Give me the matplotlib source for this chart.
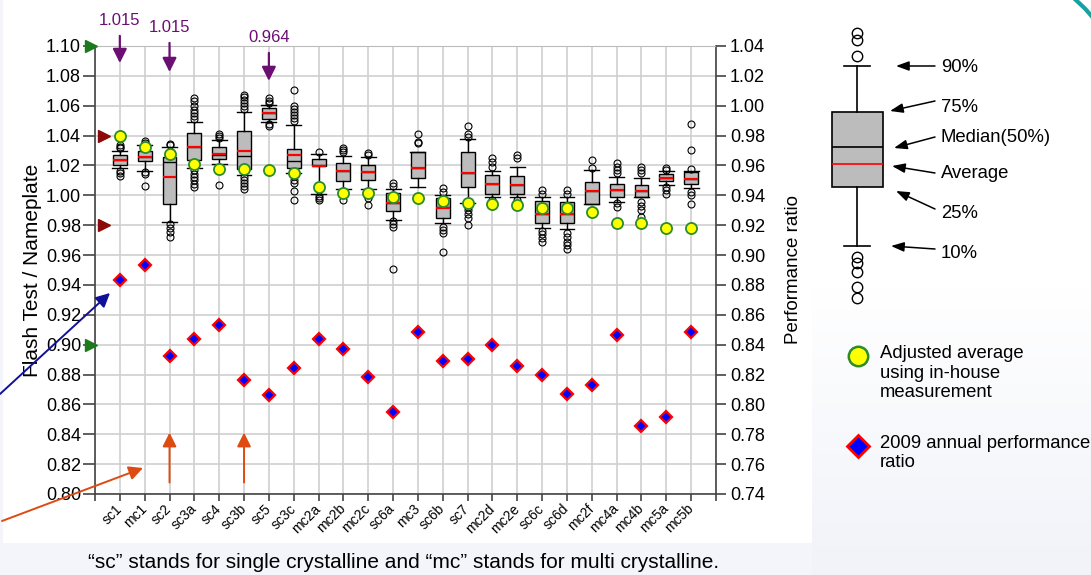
import numpy as np
import matplotlib
matplotlib.use('Agg')
import matplotlib.pyplot as plt
from matplotlib.patches import Rectangle, Arc

plt.rcParams['font.family'] = ['Liberation Sans', 'DejaVu Sans']
plt.rcParams['axes.unicode_minus'] = False

# module names along the x axis
names = ['sc1', 'mc1', 'sc2', 'sc3a', 'sc4', 'sc3b', 'sc5', 'sc3c', 'mc2a', 'mc2b',
         'mc2c', 'sc6a', 'mc3', 'sc6b', 'sc7', 'mc2d', 'mc2e', 'sc6c', 'sc6d', 'mc2f',
         'mc4a', 'mc4b', 'mc5a', 'mc5b']

# flash test / nameplate distribution (10%, 25%, median, 75%, 90%, average)
p10 = [1.0183, 1.0165, 0.9820, 1.0183, 1.0209, 1.0138, 1.0490, 1.0150, 1.0009, 1.0042,
       1.0045, 0.9836, 1.0058, 0.9817, 0.9951, 0.9987, 0.9987, 0.9779, 0.9772, 0.9942,
       0.9958, 0.9987, 1.0069, 1.0047]
p25 = [1.0203, 1.0229, 0.9944, 1.0238, 1.0245, 1.0176, 1.0512, 1.0183, 1.0194, 1.0094,
       1.0105, 0.9892, 1.0114, 0.9846, 1.0054, 1.0007, 1.0007, 0.9812, 0.9812, 0.9942,
       0.9987, 0.9991, 1.0098, 1.0076]
p50 = [1.0235, 1.0260, 1.0223, 1.0327, 1.0270, 1.0265, 1.0548, 1.0232, 1.0205, 1.0160,
       1.0154, 0.9952, 1.0181, 0.9925, 1.0152, 1.0076, 1.0072, 0.9873, 0.9873, 1.0031,
       1.0036, 1.0031, 1.0118, 1.0110]
p75 = [1.0272, 1.0298, 1.0260, 1.0417, 1.0323, 1.0434, 1.0584, 1.0312, 1.0243, 1.0216,
       1.0205, 1.0015, 1.0293, 0.9980, 1.0288, 1.0136, 1.0132, 0.9964, 0.9953, 1.0087,
       1.0076, 1.0071, 1.0141, 1.0159]
p90 = [1.0298, 1.0339, 1.0325, 1.0494, 1.0372, 1.0561, 1.0606, 1.0472, 1.0278, 1.0265,
       1.0260, 1.0041, 1.0293, 1.0002, 1.0378, 1.0163, 1.0188, 0.9991, 0.9991, 1.0170,
       1.0125, 1.0114, 1.0163, 1.0165]
avg = [1.0238, 1.0260, 1.0122, 1.0327, 1.0276, 1.0300, 1.0548, 1.0267, 1.0198, 1.0160,
       1.0154, 0.9952, 1.0181, 0.9917, 1.0152, 1.0076, 1.0072, 0.9873, 0.9873, 1.0031,
       1.0036, 1.0031, 1.0118, 1.0110]
outliers = [
    [1.0315, 1.0325, 1.0340, 1.0165, 1.0150, 1.0130],
    [1.0350, 1.0367, 1.0155, 1.0140, 1.0060],
    [1.0335, 1.0345, 0.9805, 0.9780, 0.9752, 0.9722],
    [1.0510, 1.0530, 1.0550, 1.0570, 1.0600, 1.0630, 1.0650, 1.0170, 1.0145, 1.0120, 1.0100, 1.0075, 1.0055],
    [1.0385, 1.0398, 1.0410, 1.0071],
    [1.0580, 1.0600, 1.0620, 1.0640, 1.0660, 1.0670, 1.0125, 1.0105, 1.0085, 1.0065, 1.0045],
    [1.0620, 1.0635, 1.0650, 1.0478, 1.0465],
    [1.0495, 1.0515, 1.0535, 1.0555, 1.0580, 1.0600, 1.0705, 1.0127, 1.0105, 1.0085, 1.0030, 0.9969],
    [1.0290, 0.9993, 0.9980, 0.9970],
    [1.0290, 1.0305, 1.0320, 0.9970],
    [1.0272, 1.0285, 0.9982, 0.9933],
    [1.0060, 1.0080, 0.9830, 0.9805, 0.9785, 0.9506],
    [1.0350, 1.0360, 1.0411],
    [1.0025, 1.0047, 0.9790, 0.9770, 0.9745, 0.9622],
    [1.0390, 1.0410, 1.0467, 0.9924, 0.9900, 0.9875, 0.9850, 0.9800],
    [1.0188, 1.0220, 1.0248, 0.9970, 0.9930],
    [1.0248, 1.0270, 0.9970],
    [1.0010, 1.0036, 0.9763, 0.9740, 0.9715, 0.9690],
    [1.0010, 1.0036, 0.9745, 0.9720, 0.9690, 0.9666, 0.9640],
    [1.0180, 1.0237],
    [1.0150, 1.0170, 1.0190, 1.0215, 0.9951, 0.9925],
    [1.0148, 1.0170, 1.0192, 0.9958, 0.9930, 0.9900, 0.9857],
    [1.0172, 1.0180, 1.0058, 1.0036, 1.0010],
    [1.0174, 1.0304, 1.0476, 1.0025, 1.0000, 0.9942],
]

# adjusted average using in-house measurement (left axis)
adjusted = [1.0400, 1.0325, 1.0278, 1.0207, 1.0178, 1.0178, 1.0167, 1.0149, 1.0053, 1.0016,
            1.0016, 0.9988, 0.9984, 0.9962, 0.9951, 0.9940, 0.9935, 0.9917, 0.9917, 0.9891,
            0.9817, 0.9812, 0.9783, 0.9779]

# 2009 annual performance ratio (right axis)
pr2009 = [0.8830, 0.8933, 0.8326, 0.8438, 0.8532, 0.8166, 0.8064, 0.8246, 0.8440, 0.8371,
          0.8186, 0.7952, 0.8483, 0.8291, 0.8302, 0.8398, 0.8260, 0.8197, 0.8070, 0.8133,
          0.8465, 0.7858, 0.7914, 0.8483]

# purple call-outs
callout_names = ['sc1', 'sc2', 'sc5']
callout_text = ['1.015', '1.015', '0.964']
callout_tip = [1.0886, 1.0826, 1.0766]
callout_label = [1.1174, 1.1127, 1.1060]

green_marks = [1.10, 0.90]
red_marks = [1.04, 0.98]

# key: labels for the schematic box
key_labels = ['90%', '75%', 'Median(50%)', 'Average', '25%', '10%']

W, H = 1091, 575
fig = plt.figure(figsize=(W / 100, H / 100), dpi=100)
fig.patch.set_facecolor('#f3f5fa')

# background (white chart panel + soft gradient to the right)
bg = fig.add_axes([0, 0, 1, 1], zorder=-10)
bg.set_xlim(0, W)
bg.set_ylim(H, 0)
bg.axis('off')
grad = np.linspace(0, 1, 100).reshape(-1, 1)
bg.imshow(grad, cmap=matplotlib.colors.LinearSegmentedColormap.from_list('g', ['#ffffff', '#ffffff', '#f1f3f9']),
          extent=[812, W, H, 0], aspect='auto')
bg.add_patch(Rectangle((3, 0), 809, 543, facecolor='white', edgecolor='none'))
bg.add_patch(Arc((975, 115), 306, 306, theta1=-75, theta2=-30, color='#17a2a2', lw=3))

x = np.arange(1, len(names) + 1)

ax = fig.add_axes([95 / W, 1 - 494 / H, (716 - 95) / W, (494 - 46) / H])
ax.set_xlim(0, len(names) + 1)
ax.set_ylim(0.80, 1.10)
ax.set_yticks(np.arange(0.80, 1.1001, 0.02))
ax.set_yticklabels([f'{v:.2f}' for v in np.arange(0.80, 1.1001, 0.02)])
ax.set_xticks(np.arange(0, len(names) + 2))
ax.set_xticklabels([''] + names + [''], rotation=45, ha='right', va='center',
                   rotation_mode='anchor', fontsize=10)
ax.grid(True, color='#cfcfcf', lw=1.2)
ax.set_axisbelow(True)
for s in ['left', 'right', 'bottom']:
    ax.spines[s].set_color('#444444')
    ax.spines[s].set_linewidth(1.2)
ax.spines['top'].set_color('#bbbbbb')
ax.tick_params(axis='y', labelsize=13, length=9, width=1.2, color='#444444', pad=1)
ax.tick_params(axis='x', length=5, width=1.2, color='#444444', pad=4)
ax.set_ylabel('Flash Test / Nameplate', fontsize=15, labelpad=3)

stats = []
for i in range(len(names)):
    stats.append(dict(whislo=p10[i], q1=p25[i], med=p50[i], q3=p75[i], whishi=p90[i],
                      mean=avg[i], fliers=outliers[i]))
ax.bxp(stats, positions=x, widths=0.56, patch_artist=True, showmeans=True, meanline=True,
       manage_ticks=False,
       boxprops=dict(facecolor='#bcbcbc', edgecolor='black', lw=1),
       medianprops=dict(color='black', lw=1),
       meanprops=dict(color='red', lw=1.6, ls='-'),
       whiskerprops=dict(color='black', lw=1),
       capprops=dict(color='black', lw=1),
       capwidths=0.6,
       flierprops=dict(marker='o', mfc='none', mec='black', ms=5, mew=0.8))

ax.plot(x, adjusted, 'o', ms=8, mfc='#ffff00', mec='#2a8c2a', mew=1.3, zorder=4)

ax2 = ax.twinx()
ax2.set_ylim(0.74, 1.04)
ax2.set_yticks(np.arange(0.74, 1.0401, 0.02))
ax2.set_yticklabels([f'{v:.2f}' for v in np.arange(0.74, 1.0401, 0.02)])
ax2.tick_params(axis='y', labelsize=13, length=7, width=1.2, color='#444444', pad=3)
for s in ax2.spines.values():
    s.set_visible(False)
ax2.set_ylabel('Performance ratio', fontsize=13.5, labelpad=14)
ax2.plot(x, pr2009, 'D', ms=6.4, mfc='#0000ff', mec='#ff0000', mew=1.6, zorder=4)

# axis markers
tr = ax.get_yaxis_transform()
ax.plot([-0.007] * len(green_marks), green_marks, '>', color='#1b7a1b', ms=9,
        transform=tr, clip_on=False, zorder=6)
ax.plot([0.015] * len(red_marks), red_marks, '>', color='#8b0a0a', ms=9,
        transform=tr, clip_on=False, zorder=6)

purple = '#6b0f73'
for n, t, tip, lab in zip(callout_names, callout_text, callout_tip, callout_label):
    xi = names.index(n) + 1
    ax.annotate(t, xy=(xi, tip), xytext=(xi, lab), ha='center', va='center',
                color=purple, fontsize=12, annotation_clip=False,
                arrowprops=dict(arrowstyle='-|>,head_length=0.6,head_width=0.3',
                                color=purple, lw=1.6, mutation_scale=14, shrinkA=4, shrinkB=0))

orange = '#dd4a12'
for n in ['sc2', 'sc3b']:
    xi = names.index(n) + 1
    ax.annotate('', xy=(xi, 0.8411), xytext=(xi, 0.8077), annotation_clip=False,
                arrowprops=dict(arrowstyle='-|>,head_length=0.6,head_width=0.3',
                                color=orange, lw=1.4, mutation_scale=14, shrinkA=0, shrinkB=0))

# overlay in pixel coordinates for free arrows and the key
ov = fig.add_axes([0, 0, 1, 1], zorder=10)
ov.set_xlim(0, W)
ov.set_ylim(H, 0)
ov.axis('off')
ov.patch.set_alpha(0)

ov.annotate('', xy=(110, 293), xytext=(0, 394),
            arrowprops=dict(arrowstyle='-|>,head_length=0.6,head_width=0.3',
                            color='#10109a', lw=1.4, mutation_scale=14, shrinkA=0, shrinkB=0))
ov.annotate('', xy=(143, 468), xytext=(2, 521),
            arrowprops=dict(arrowstyle='-|>,head_length=0.6,head_width=0.3',
                            color=orange, lw=1.4, mutation_scale=14, shrinkA=0, shrinkB=0))

key = dict(whislo=245.7, q1=187.3, med=147.3, q3=111.7, whishi=66, mean=164.3,
           fliers=[33, 40, 56, 257, 263, 272, 287, 298])
ov.bxp([key], positions=[857], widths=51, patch_artist=True, showmeans=True, meanline=True,
       manage_ticks=False,
       boxprops=dict(facecolor='#bcbcbc', edgecolor='black', lw=1.2),
       medianprops=dict(color='black', lw=1.2),
       meanprops=dict(color='red', lw=1.2, ls='-'),
       whiskerprops=dict(color='black', lw=1.2),
       capprops=dict(color='black', lw=1.2),
       flierprops=dict(marker='o', mfc='none', mec='black', ms=7.5, mew=1))
ov.set_xlim(0, W)
ov.set_ylim(H, 0)

key_text_y = [67, 108, 138, 173, 213, 253]
key_tail = [(935, 66), (935, 101), (935, 137), (935, 173), (935, 209), (935, 249)]
key_tip = [(896, 66), (890, 111), (894, 148), (892, 166), (896, 191), (891, 246)]
for lab, ty, tail, tip in zip(key_labels, key_text_y, key_tail, key_tip):
    ov.text(941, ty, lab, fontsize=13.3, va='center', ha='left')
    ov.annotate('', xy=tip, xytext=tail,
                arrowprops=dict(arrowstyle='-|>,head_length=0.6,head_width=0.22',
                                color='black', lw=1.1, mutation_scale=13, shrinkA=0, shrinkB=0))

ov.plot(858, 356, 'o', ms=14, mfc='#ffff00', mec='#2a8c2a', mew=1.8)
ov.text(880, 373, 'Adjusted average\nusing in-house\nmeasurement', fontsize=13.3,
        va='center', ha='left', linespacing=1.2)
ov.plot(858, 446, 'D', ms=11.5, mfc='#0000ff', mec='#ff0000', mew=2)
ov.text(880, 453, '2009 annual performance\nratio', fontsize=13.3, va='center', ha='left',
        linespacing=1.2)

fig.text(404 / W, 1 - 563 / H,
         '\u201csc\u201d stands for single crystalline and \u201cmc\u201d stands for multi crystalline.',
         ha='center', va='center', fontsize=15)

fig.savefig('out.png', dpi=100, facecolor=fig.get_facecolor())
